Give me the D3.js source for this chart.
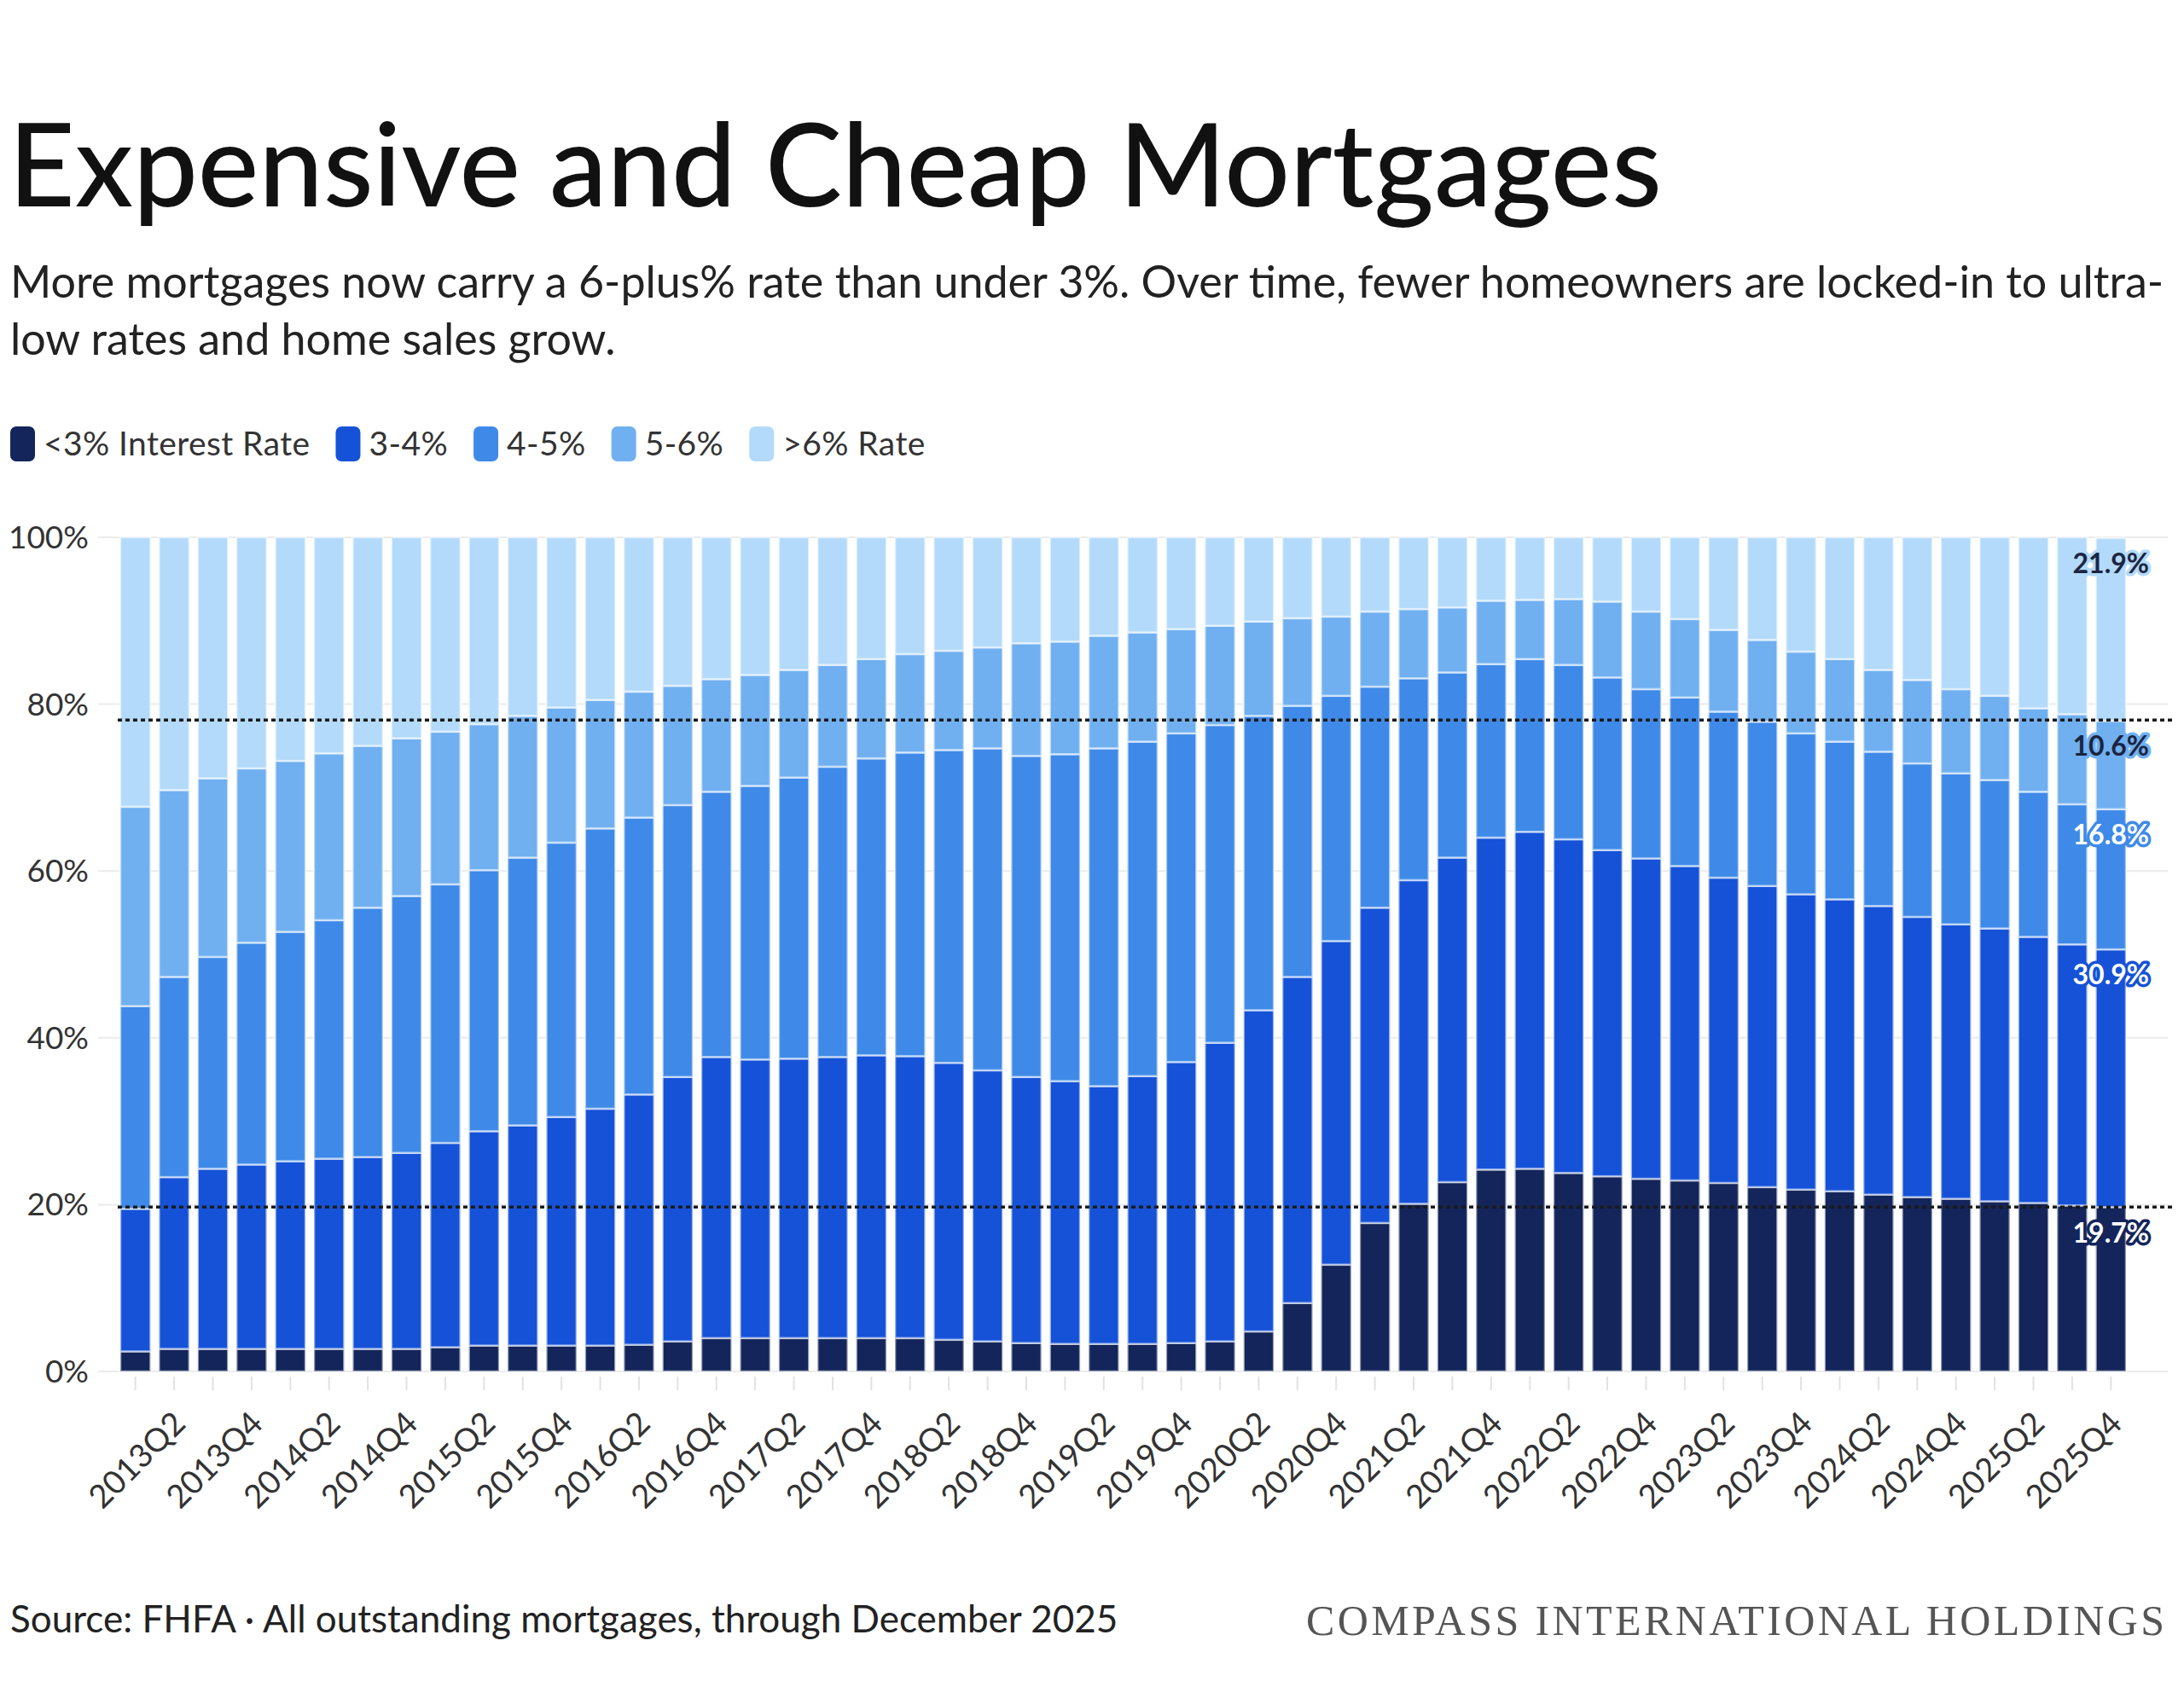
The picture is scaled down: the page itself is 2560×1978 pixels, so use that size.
<!DOCTYPE html>
<html>
<head>
<meta charset="utf-8">
<script src="https://cdn.jsdelivr.net/npm/d3@7"></script>
<style>
  body { margin: 0; background: #fff; }
  svg { display: block; font-family: Lato, "Noto Sans", sans-serif; }
</style>
</head>
<body>
<script>
// quarters shown on the x axis
const quarters = [
  "2013Q1","2013Q2","2013Q3","2013Q4","2014Q1","2014Q2","2014Q3","2014Q4",
  "2015Q1","2015Q2","2015Q3","2015Q4","2016Q1","2016Q2","2016Q3","2016Q4",
  "2017Q1","2017Q2","2017Q3","2017Q4","2018Q1","2018Q2","2018Q3","2018Q4",
  "2019Q1","2019Q2","2019Q3","2019Q4","2020Q1","2020Q2","2020Q3","2020Q4",
  "2021Q1","2021Q2","2021Q3","2021Q4","2022Q1","2022Q2","2022Q3","2022Q4",
  "2023Q1","2023Q2","2023Q3","2023Q4","2024Q1","2024Q2","2024Q3","2024Q4",
  "2025Q1","2025Q2","2025Q3","2025Q4"
];
const tickLabels = [
  "2013Q2","2013Q4","2014Q2","2014Q4","2015Q2","2015Q4","2016Q2","2016Q4",
  "2017Q2","2017Q4","2018Q2","2018Q4","2019Q2","2019Q4","2020Q2","2020Q4",
  "2021Q2","2021Q4","2022Q2","2022Q4","2023Q2","2023Q4","2024Q2","2024Q4",
  "2025Q2","2025Q4"
];
const yTicks = [0, 20, 40, 60, 80, 100];

// share of outstanding mortgages (%) by rate bucket
const under3 = [2.4,2.7,2.7,2.7,2.7,2.7,2.7,2.7,2.9,3.1,3.1,3.1,3.1,3.2,3.6,4.0,
  4.0,4.0,4.0,4.0,4.0,3.8,3.6,3.4,3.3,3.3,3.3,3.4,3.6,4.8,8.2,12.8,
  17.8,20.1,22.7,24.2,24.3,23.8,23.4,23.1,22.9,22.6,22.1,21.8,21.6,21.2,20.9,20.7,
  20.4,20.2,19.9,19.7];
const rate3to4 = [17.1,20.6,21.6,22.1,22.5,22.8,23.0,23.5,24.5,25.7,26.4,27.4,28.4,30.0,31.7,33.7,
  33.4,33.5,33.7,33.9,33.8,33.2,32.5,31.9,31.5,30.9,32.1,33.7,35.8,38.5,39.1,38.8,
  37.8,38.8,38.9,39.8,40.4,40.0,39.1,38.4,37.7,36.6,36.1,35.4,35.0,34.6,33.6,32.9,
  32.7,31.9,31.3,30.9];
const rate4to5 = [24.3,24.0,25.4,26.6,27.5,28.6,29.9,30.8,31.0,31.3,32.1,32.9,33.6,33.2,32.6,31.8,
  32.8,33.7,34.8,35.6,36.4,37.5,38.6,38.5,39.2,40.5,40.1,39.4,38.1,35.3,32.5,29.4,
  26.5,24.2,22.2,20.8,20.7,20.9,20.7,20.3,20.2,19.9,19.7,19.3,18.9,18.5,18.4,18.1,
  17.8,17.4,16.8,16.8];
const rate5to6 = [23.9,22.4,21.4,20.9,20.5,20.0,19.4,18.9,18.3,17.5,17.0,16.2,15.4,15.1,14.3,13.5,
  13.3,12.9,12.2,11.9,11.8,11.9,12.1,13.5,13.5,13.5,13.1,12.5,11.9,11.3,10.5,9.5,
  9.0,8.3,7.8,7.6,7.1,7.9,9.1,9.3,9.4,9.8,9.8,9.8,9.9,9.8,10.0,10.1,
  10.1,10.0,10.8,10.6];
const over6 = [32.3,30.3,28.9,27.7,26.8,25.9,25.0,24.1,23.3,22.4,21.4,20.4,19.5,18.5,17.8,17.0,
  16.5,15.9,15.3,14.6,14.0,13.6,13.2,12.7,12.5,11.8,11.4,11.0,10.6,10.1,9.7,9.5,
  8.9,8.6,8.4,7.6,7.5,7.4,7.7,8.9,9.8,11.1,12.3,13.7,14.6,15.9,17.1,18.2,
  19.0,20.5,21.2,21.9];

const seriesKeys = ["under3", "rate3to4", "rate4to5", "rate5to6", "over6"];
const seriesNames = ["<3% Interest Rate", "3-4%", "4-5%", "5-6%", ">6% Rate"];
const seriesColors = ["#13255a", "#1552d8", "#3f8ae8", "#70b0f1", "#b3dafa"];
const labelColors = ["#fff", "#fff", "#fff", "#1c2541", "#1c2541"];

const rows = quarters.map((q, i) => ({
  quarter: q,
  under3: under3[i], rate3to4: rate3to4[i], rate4to5: rate4to5[i],
  rate5to6: rate5to6[i], over6: over6[i]
}));
const stacked = d3.stack().keys(seriesKeys)(rows);

const W = 2560, H = 1978;
const svg = d3.select("body").append("svg")
  .attr("width", W).attr("height", H);

// titles
svg.append("text")
  .attr("x", 10).attr("y", 242)
  .attr("font-size", 135).attr("font-weight", 500).attr("fill", "#111")
  .text("Expensive and Cheap Mortgages");

const subtitle = [
  "More mortgages now carry a 6-plus% rate than under 3%. Over time, fewer homeowners are locked-in to ultra-",
  "low rates and home sales grow."
];
svg.append("g").selectAll("text")
  .data(subtitle)
  .join("text")
  .attr("x", 12).attr("y", (d, i) => 349 + i * 67)
  .attr("font-size", 52).attr("fill", "#222")
  .text(d => d);

// legend
const legend = svg.append("g");
let lx = 12;
seriesNames.forEach((name, i) => {
  legend.append("rect")
    .attr("x", lx).attr("y", 500)
    .attr("width", 29).attr("height", 41).attr("rx", 7)
    .attr("fill", seriesColors[i]);
  const t = legend.append("text")
    .attr("x", lx + 39).attr("y", 534)
    .attr("font-size", 39).attr("letter-spacing", 0.4).attr("fill", "#333")
    .text(name);
  lx += 39 + t.node().getComputedTextLength() + 30;
});

// scales
const x = d3.scaleBand()
  .domain(quarters)
  .range([136, 2497])
  .paddingInner(0.22)
  .paddingOuter(0.11);
const y = d3.scaleLinear().domain([0, 100]).range([1608, 630]);

// grid
svg.append("g").selectAll("line")
  .data(yTicks)
  .join("line")
  .attr("x1", 115).attr("x2", 2541)
  .attr("y1", d => y(d)).attr("y2", d => y(d))
  .attr("stroke", "#ebebeb").attr("stroke-width", 2);

svg.append("g").selectAll("text")
  .data(yTicks)
  .join("text")
  .attr("x", 104).attr("y", d => y(d))
  .attr("dy", "0.35em")
  .attr("text-anchor", "end")
  .attr("font-size", 37).attr("fill", "#333")
  .text(d => d + "%");

// bars
svg.append("g").selectAll("g")
  .data(stacked)
  .join("g")
  .attr("fill", (d, i) => seriesColors[i])
  .selectAll("rect")
  .data(d => d)
  .join("rect")
  .attr("x", d => x(d.data.quarter))
  .attr("width", x.bandwidth())
  .attr("y", d => y(d[1]))
  .attr("height", d => y(d[0]) - y(d[1]))
  .attr("stroke", "#fff")
  .attr("stroke-width", 2.5)
  .attr("stroke-opacity", 0.55);

// x ticks and labels
svg.append("g").selectAll("line")
  .data(quarters)
  .join("line")
  .attr("x1", d => x(d) + x.bandwidth() / 2)
  .attr("x2", d => x(d) + x.bandwidth() / 2)
  .attr("y1", 1614).attr("y2", 1630)
  .attr("stroke", "#e2e2e2").attr("stroke-width", 2);

svg.append("g").selectAll("text")
  .data(tickLabels)
  .join("text")
  .attr("transform", d => `translate(${x(d) + x.bandwidth() / 2 + 6},${1662}) rotate(-45)`)
  .attr("text-anchor", "end")
  .attr("dy", "0.35em")
  .attr("font-size", 38).attr("fill", "#333")
  .text(d => d);

// reference lines at the latest <3% and >6% levels
const last = rows.length - 1;
const refLines = [under3[last], 100 - over6[last]];
svg.append("g").selectAll("line")
  .data(refLines)
  .join("line")
  .attr("x1", 138).attr("x2", 2546)
  .attr("y1", d => y(d)).attr("y2", d => y(d))
  .attr("stroke", "#1a1a1a").attr("stroke-width", 3.5)
  .attr("stroke-dasharray", "5,4");

// labels on the latest bar
const lastQ = quarters[last];
svg.append("g").selectAll("text")
  .data(stacked)
  .join("text")
  .attr("x", x(lastQ) + x.bandwidth() / 2)
  .attr("y", d => y(d[last][1]) + 30)
  .attr("dy", "0.35em")
  .attr("text-anchor", "middle")
  .attr("font-size", 32).attr("font-weight", 700)
  .attr("fill", (d, i) => labelColors[i])
  .attr("stroke", (d, i) => seriesColors[i])
  .attr("stroke-width", 7)
  .attr("stroke-linejoin", "round")
  .attr("paint-order", "stroke")
  .text(d => d3.format(".1f")(d[last].data[d.key]) + "%");

// footer
svg.append("text")
  .attr("x", 12).attr("y", 1914)
  .attr("font-size", 44).attr("fill", "#222")
  .text("Source: FHFA · All outstanding mortgages, through December 2025");

svg.append("text")
  .attr("x", 1531).attr("y", 1917)
  .attr("font-family", "'Liberation Serif', 'DejaVu Serif', serif")
  .attr("font-size", 50).attr("letter-spacing", 3.4).attr("fill", "#555")
  .text("COMPASS INTERNATIONAL HOLDINGS");
</script>
</body>
</html>
